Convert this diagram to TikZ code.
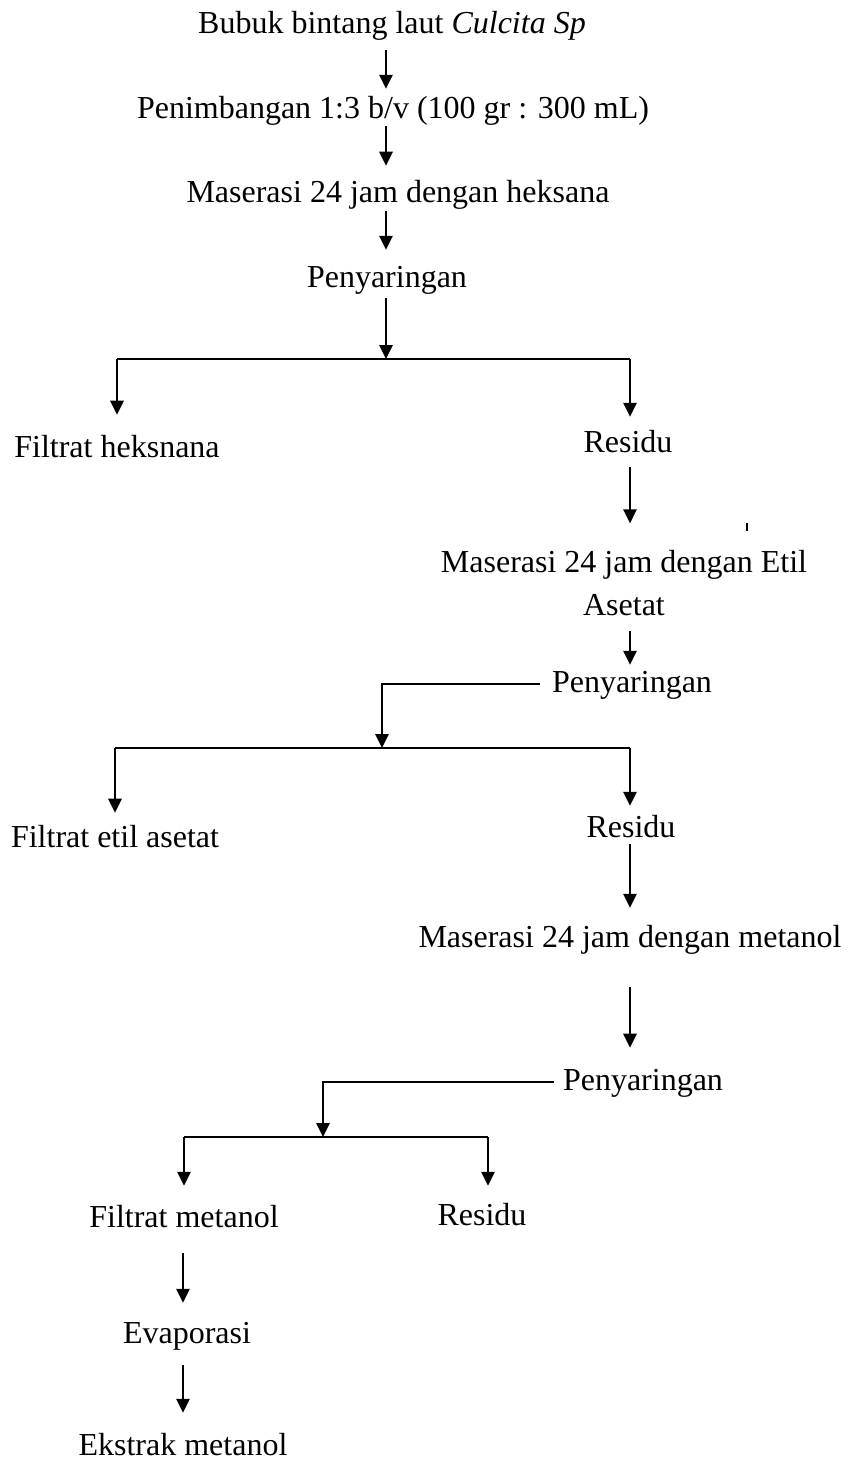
\documentclass[tikz,border=0pt]{standalone}
\usepackage{fontspec}
\setmainfont{Liberation Serif}
\usetikzlibrary{arrows.meta}

\begin{document}
\begin{tikzpicture}[x=0.75pt,y=-0.75pt,
		txt/.style={font=\fontsize{24}{32}\selectfont, inner sep=0pt, text height=17pt, text depth=5pt, anchor=base},
		txtb/.style={font=\fontsize{24}{32}\selectfont, inner sep=0pt, align=center, anchor=north},
		arr/.style={-{Triangle[length=10.5pt,width=10pt]}, line width=1.4pt},
		ln/.style={line width=1.4pt}]
	\useasboundingbox (0,0) rectangle (853,1461);
	\coordinate (colL) at (183,0);
	\coordinate (colM) at (386,0);
	\coordinate (colR) at (630,0);
	\node [txt] (bubuk) at (392,33) {Bubuk bintang laut \textit{Culcita Sp}};
	\node [txt] (timbang) at (393,118) {Penimbangan 1:3 b/v (100 gr : 300 mL)};
	\node [txt] (mas1) at (398,202) {Maserasi 24 jam dengan heksana};
	\node [txt] (saring1) at (387,287) {Penyaringan};
	\node [txt] (filt1) at (117,457) {Filtrat heksnana};
	\node [txt] (res1) at (628,452) {Residu};
	\node [txtb] (mas2) at (624,550) {Maserasi 24 jam dengan Etil\\Asetat};
	\node [txt] (saring2) at (632,692) {Penyaringan};
	\node [txt] (filt2) at (115,847) {Filtrat etil asetat};
	\node [txt] (res2) at (631,837) {Residu};
	\node [txt] (mas3) at (630,947) {Maserasi 24 jam dengan metanol};
	\node [txt] (saring3) at (643,1090) {Penyaringan};
	\node [txt] (filt3) at (184,1227) {Filtrat metanol};
	\node [txt] (res3) at (482,1225) {Residu};
	\node [txt] (evap) at (187,1343) {Evaporasi};
	\node [txt] (ekstrak) at (183,1455) {Ekstrak metanol};
	\coordinate (b1) at (386,359);
	\coordinate (b2) at (382,748);
	\coordinate (b3) at (323,1137);
	\coordinate (b3r) at (488,1137);

	\draw [arr, shorten <=7.7pt, shorten >=4.7pt] (bubuk.south -| colM) -- (timbang.north -| colM);
	\draw [arr, shorten <=1pt, shorten >=10pt] (timbang.south -| colM) -- (mas1.north -| colM);
	\draw [arr, shorten <=1.7pt, shorten >=10.7pt] (mas1.south -| colM) -- (saring1.north -| colM);
	\draw [arr, shorten <=3.2pt] (saring1.south -| colM) -- (b1);
	\draw [ln] (b1 -| filt1) -- (b1 -| colR);
	\draw [arr, shorten >=14.5pt] (b1 -| filt1) -- (filt1.north);
	\draw [arr, shorten >=9.2pt] (b1 -| colR) -- (res1.north -| colR);
	\draw [arr, shorten <=6.2pt, shorten >=20pt] (res1.south -| colR) -- (mas2.north -| colR);
	\draw [ln] (747,523) -- (747,531);
	\draw [arr, shorten <=11.7pt, shorten >=3.2pt] (mas2.south -| colR) -- (saring2.north -| colR);
	\draw [arr, shorten <=9pt] (saring2.west) -| (b2);
	\draw [ln] (b2 -| filt2) -- (b2 -| colR);
	\draw [arr, shorten >=8.5pt] (b2 -| filt2) -- (filt2.north);
	\draw [arr, shorten >=6.2pt] (b2 -| colR) -- (res2.north -| colR);
	\draw [arr, shorten >=12.2pt] (res2.south -| colR) -- (mas3.north -| colR);
	\draw [arr, shorten <=25pt, shorten >=14.5pt] (mas3.south -| colR) -- (saring3.north -| colR);
	\draw [arr, shorten <=6.75pt] (saring3.west) -| (b3);
	\draw [ln] (b3 -| filt3) -- (b3r);
	\draw [arr, shorten >=13.7pt] (b3 -| filt3) -- (filt3.north);
	\draw [arr, shorten >=12.2pt] (b3r) -- (res3.north -| b3r);
	\draw [arr, shorten <=14.5pt, shorten >=13pt] (filt3.south -| colL) -- (evap.north -| colL);
	\draw [arr, shorten <=11.5pt, shorten >=14.5pt] (evap.south -| colL) -- (ekstrak.north -| colL);
\end{tikzpicture}
\end{document}
